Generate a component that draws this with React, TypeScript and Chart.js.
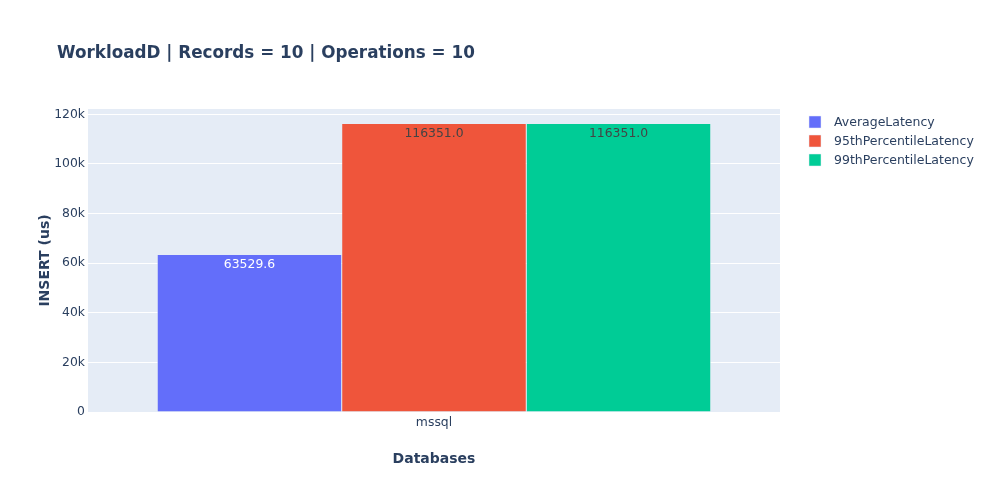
import React, { useEffect, useRef } from "react";
import { Chart, registerables } from "chart.js";

Chart.register(...registerables);

const categories = ["mssql"];
const seriesNames = ["AverageLatency", "95thPercentileLatency", "99thPercentileLatency"];
const avgLatency = [63529.6];
const p95Latency = [116351.0];
const p99Latency = [116351.0];
const seriesColors = ["#636efa", "#EF553B", "#00cc96"];
const labelColors = ["#ffffff", "#444444", "#444444"];
const yTickValues = [0, 20000, 40000, 60000, 80000, 100000, 120000];
const titleText = "WorkloadD | Records = 10 | Operations = 10";
const xTitle = "Databases";
const yTitle = "INSERT (us)";

const FONT = "'DejaVu Sans', Verdana, sans-serif";
const TEXT_COLOR = "#2a3f5f";

const bgPlugin = {
  id: "plotBg",
  beforeDraw(chart: any) {
    const { ctx, chartArea } = chart;
    ctx.save();
    ctx.fillStyle = "#E5ECF6";
    ctx.fillRect(chartArea.left, chartArea.top, chartArea.right - chartArea.left, chartArea.bottom - chartArea.top);
    ctx.restore();
  },
};

const labelPlugin = {
  id: "barLabels",
  afterDatasetsDraw(chart: any) {
    const { ctx } = chart;
    ctx.save();
    ctx.font = `12.4px ${FONT}`;
    ctx.textAlign = "center";
    ctx.textBaseline = "middle";
    chart.data.datasets.forEach((ds: any, i: number) => {
      const meta = chart.getDatasetMeta(i);
      meta.data.forEach((el: any, j: number) => {
        const v = ds.data[j] as number;
        ctx.fillStyle = labelColors[i];
        ctx.fillText(v.toFixed(1), el.x, el.y + 10);
      });
    });
    ctx.restore();
  },
};

const titleLegendPlugin = {
  id: "titleLegend",
  afterDraw(chart: any) {
    const { ctx } = chart;
    ctx.save();
    ctx.fillStyle = TEXT_COLOR;
    ctx.font = `bold 16.8px ${FONT}`;
    ctx.textAlign = "left";
    ctx.textBaseline = "middle";
    ctx.fillText(titleText, 57, 53.5);

    ctx.font = `12.5px ${FONT}`;
    chart.data.datasets.forEach((ds: any, i: number) => {
      const y = 122 + i * 19;
      ctx.fillStyle = ds.backgroundColor;
      ctx.fillRect(809, y - 6, 12, 12);
      ctx.strokeStyle = "#E5ECF6";
      ctx.lineWidth = 0.5;
      ctx.strokeRect(809, y - 6, 12, 12);
      ctx.fillStyle = TEXT_COLOR;
      ctx.fillText(ds.label, 834, y + 1);
    });
    ctx.restore();
  },
};

export default function App() {
  const canvasRef = useRef<HTMLCanvasElement | null>(null);

  useEffect(() => {
    if (!canvasRef.current) return;
    const yMax = Math.max(...avgLatency, ...p95Latency, ...p99Latency) * 1.05;
    const values = [avgLatency, p95Latency, p99Latency];
    const chart = new Chart(canvasRef.current, {
      type: "bar",
      data: {
        labels: categories,
        datasets: seriesNames.map((name, i) => ({
          label: name,
          data: values[i],
          backgroundColor: seriesColors[i],
          borderColor: "#E5ECF6",
          borderWidth: 0.5,
          categoryPercentage: 0.8,
          barPercentage: 1.0,
        })),
      },
      options: {
        animation: false,
        responsive: false,
        maintainAspectRatio: false,
        layout: { padding: { left: 37, right: 220, top: 109, bottom: 29 } },
        plugins: {
          legend: { display: false },
          title: { display: false },
          tooltip: { enabled: false },
        },
        scales: {
          x: {
            grid: { display: false, drawTicks: false },
            border: { display: false },
            ticks: { color: TEXT_COLOR, font: { family: FONT, size: 12.4 }, padding: 3 },
            title: {
              display: true,
              text: xTitle,
              color: TEXT_COLOR,
              font: { family: FONT, size: 14, weight: "bold" },
              padding: { top: 3.5, bottom: 3.5 },
            },
            afterFit: (s: any) => {
              s.height = 59;
            },
          },
          y: {
            min: 0,
            max: yMax,
            grid: { color: "#ffffff", lineWidth: 1, drawTicks: false },
            border: { display: false },
            ticks: {
              color: TEXT_COLOR,
              font: { family: FONT, size: 12.4 },
              padding: 3,
              callback: (v: any) => (v === 0 ? "0" : `${Math.round(v / 1000)}k`),
            },
            afterBuildTicks: (axis: any) => {
              axis.ticks = yTickValues.map((v) => ({ value: v }));
            },
            title: {
              display: true,
              text: yTitle,
              color: TEXT_COLOR,
              font: { family: FONT, size: 14, weight: "bold" },
              padding: { top: 0, bottom: 0 },
            },
            afterFit: (s: any) => {
              s.width = 51;
            },
          },
        },
      },
      plugins: [bgPlugin, labelPlugin, titleLegendPlugin],
    } as any);
    return () => chart.destroy();
  }, []);

  return (
    <div style={{ position: "fixed", left: 0, top: 0, width: 1000, height: 500, background: "#fff" }}>
      <canvas ref={canvasRef} width={1000} height={500} style={{ width: 1000, height: 500 }} />
    </div>
  );
}
